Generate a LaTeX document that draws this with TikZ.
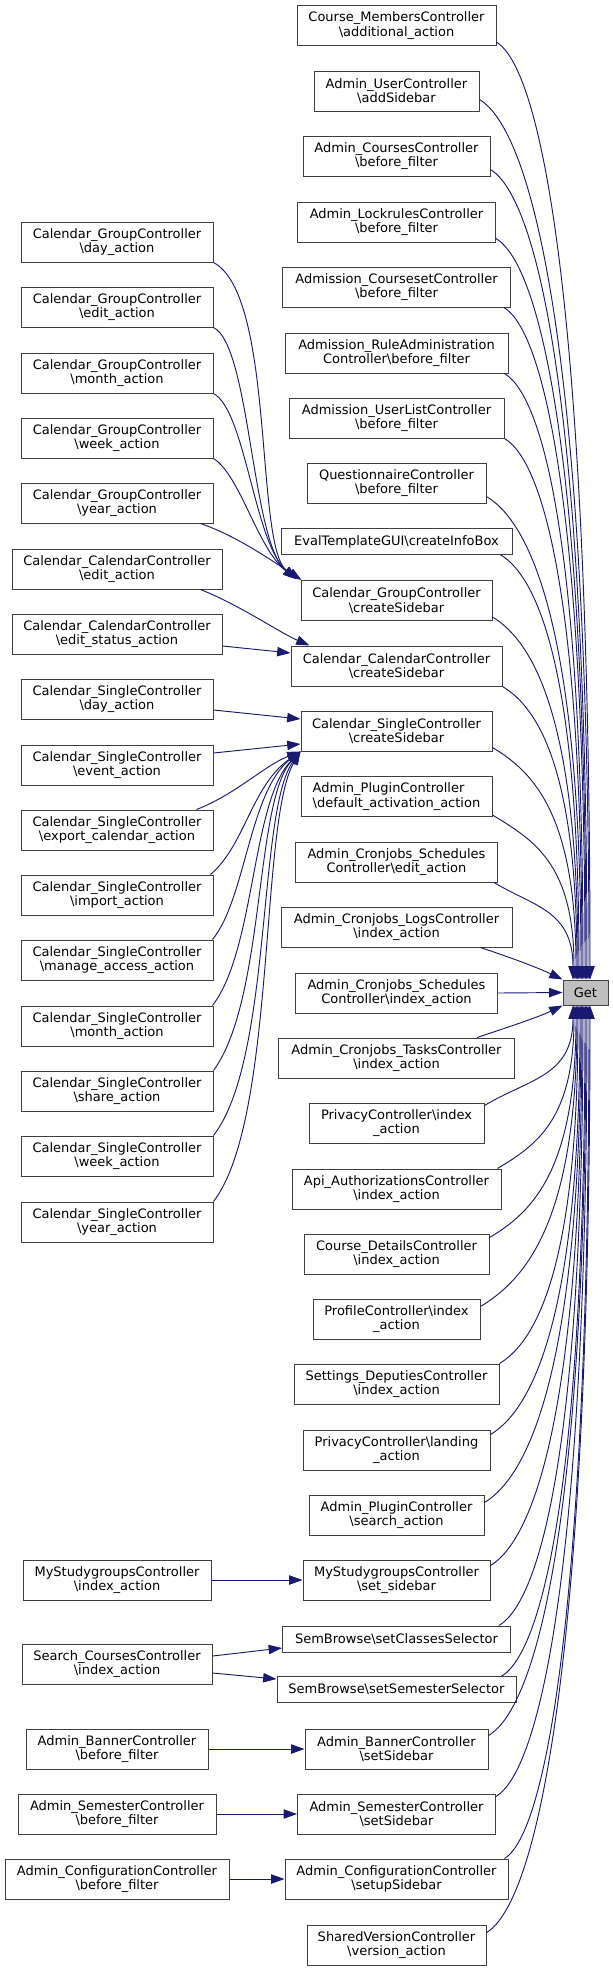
\documentclass[tikz,border=0pt]{standalone}
\usepackage{fontspec}
\setmainfont{DejaVu Sans}
\usetikzlibrary{arrows.meta,calc}
\definecolor{edgeblue}{HTML}{191970}
\definecolor{boxline}{HTML}{404040}
\definecolor{getfill}{HTML}{BFBFBF}
\newcommand\bs{\textbackslash}
\newcommand\midbox[5]{\node[box,minimum width=#3*0.75pt,minimum height=#4*0.75pt] (#1) at (396.5,#2) {#5};}
\newcommand\leftbox[4]{\node[box,minimum width=#3*0.75pt,minimum height=30pt] (#1) at (117,#2) {#4};}
\begin{document}
\begin{tikzpicture}[x=0.75pt,y=-0.75pt,
  box/.style={draw=boxline,line width=0.75pt,fill=white,inner sep=0pt,align=center,font=\fontsize{9.75pt}{10.9pt}\selectfont},
  calledge/.style={draw=edgeblue,line width=0.7pt,-{Triangle[length=10pt,width=7pt]}}]
\useasboundingbox (0,0) rectangle (613,1971);
% focus node
\node[box,fill=getfill,minimum width=33.75pt,minimum height=18.75pt] (get) at (585.5,992.5) {Get};
% middle column
\midbox{m0}{25.7}{199}{40}{Course\_MembersController\\\bs additional\_action}
\midbox{m1}{91}{165}{40}{Admin\_UserController\\\bs addSidebar}
\midbox{m2}{156}{187}{40}{Admin\_CoursesController\\\bs before\_filter}
\midbox{m3}{222}{198}{40}{Admin\_LockrulesController\\\bs before\_filter}
\midbox{m4}{287}{228}{40}{Admission\_CoursesetController\\\bs before\_filter}
\midbox{m5}{353}{223}{40}{Admission\_RuleAdministration\\Controller\bs before\_filter}
\midbox{m6}{418}{215}{40}{Admission\_UserListController\\\bs before\_filter}
\midbox{m7}{483}{179}{40}{QuestionnaireController\\\bs before\_filter}
\midbox{m8}{541.5}{231}{25.5}{EvalTemplateGUI\bs createInfoBox}
\midbox{m9}{600.5}{191}{40}{Calendar\_GroupController\\\bs createSidebar}
\midbox{m10}{666}{211}{40}{Calendar\_CalendarController\\\bs createSidebar}
\midbox{m11}{731}{191}{40}{Calendar\_SingleController\\\bs createSidebar}
\midbox{m12}{796.5}{191}{40}{\rlap{Admin\_PluginController}\phantom{\bs default\_activation\_action}\\\bs default\_activation\_action}
\midbox{m13}{862}{202}{40}{Admin\_Cronjobs\_Schedules\\Controller\bs edit\_action}
\midbox{m14}{927}{231}{40}{Admin\_Cronjobs\_LogsController\\\bs index\_action}
\midbox{m15}{993}{202}{40}{Admin\_Cronjobs\_Schedules\\Controller\bs index\_action}
\midbox{m16}{1058}{236}{40}{Admin\_Cronjobs\_TasksController\\\bs index\_action}
\midbox{m17}{1123}{175}{40}{PrivacyController\bs index\\\_action}
\midbox{m18}{1189}{209}{40}{Api\_AuthorizationsController\\\bs index\_action}
\midbox{m19}{1254}{185}{40}{Course\_DetailsController\\\bs index\_action}
\midbox{m20}{1319}{167}{40}{ProfileController\bs index\\\_action}
\midbox{m21}{1384}{205}{40}{Settings\_DeputiesController\\\bs index\_action}
\midbox{m22}{1450}{187}{40}{PrivacyController\bs landing\\\_action}
\midbox{m23}{1515}{175}{40}{Admin\_PluginController\\\bs search\_action}
\midbox{m24}{1580}{187}{40}{MyStudygroupsController\\\bs set\_sidebar}
\midbox{m25}{1639}{228}{26}{SemBrowse\bs setClassesSelector}
\midbox{m26}{1689.5}{239}{25.5}{SemBrowse\bs setSemesterSelector}
\midbox{m27}{1749}{183}{40}{Admin\_BannerController\\\bs setSidebar}
\midbox{m28}{1814}{198}{40}{Admin\_SemesterController\\\bs setSidebar}
\midbox{m29}{1879}{223}{40}{Admin\_ConfigurationController\\\bs setupSidebar}
\midbox{m30}{1945}{179}{40}{SharedVersionController\\\bs version\_action}
% left column
\leftbox{g1}{242}{192}{Calendar\_GroupController\\\bs day\_action}
\leftbox{g2}{307}{192}{Calendar\_GroupController\\\bs edit\_action}
\leftbox{g3}{373}{192}{Calendar\_GroupController\\\bs month\_action}
\leftbox{g4}{438}{192}{Calendar\_GroupController\\\bs week\_action}
\leftbox{g5}{503}{192}{Calendar\_GroupController\\\bs year\_action}
\leftbox{c1}{569}{210}{Calendar\_CalendarController\\\bs edit\_action}
\leftbox{c2}{634}{210}{Calendar\_CalendarController\\\bs edit\_status\_action}
\leftbox{s1}{699}{192}{Calendar\_SingleController\\\bs day\_action}
\leftbox{s2}{765}{192}{Calendar\_SingleController\\\bs event\_action}
\leftbox{s3}{830}{192}{Calendar\_SingleController\\\bs export\_calendar\_action}
\leftbox{s4}{895}{192}{Calendar\_SingleController\\\bs import\_action}
\leftbox{s5}{960}{192}{Calendar\_SingleController\\\bs manage\_access\_action}
\leftbox{s6}{1026}{192}{Calendar\_SingleController\\\bs month\_action}
\leftbox{s7}{1091}{192}{Calendar\_SingleController\\\bs share\_action}
\leftbox{s8}{1156}{192}{Calendar\_SingleController\\\bs week\_action}
\leftbox{s9}{1222}{192}{Calendar\_SingleController\\\bs year\_action}
\leftbox{a1}{1580}{188}{MyStudygroupsController\\\bs index\_action}
\leftbox{a2}{1664}{190}{Search\_CoursesController\\\bs index\_action}
\leftbox{a3}{1749}{182}{Admin\_BannerController\\\bs before\_filter}
\leftbox{a4}{1814}{198}{Admin\_SemesterController\\\bs before\_filter}
\leftbox{a5}{1879}{224}{Admin\_ConfigurationController\\\bs before\_filter}
% edges into Get from above
\draw[calledge] ($(m0.south east)+(0,-4)$) .. controls +(47,28) and +(0,-657) .. ($(get.north)+(4.5,0)$);
\draw[calledge] ($(m1.south east)+(0,-12)$) .. controls +(55,33) and +(0,-617) .. ($(get.north)+(3.5,0)$);
\draw[calledge] ($(m2.south east)+(0,-7)$) .. controls +(48,29) and +(0,-568) .. ($(get.north)+(1.5,0)$);
\draw[calledge] ($(m3.south east)+(0,-4)$) .. controls +(45,27) and +(0,-519) .. ($(get.north)+(0.5,0)$);
\draw[calledge] ($(m4.south east)+(-7,0)$) .. controls +(40,24) and +(0,-471) .. ($(get.north)+(-0.5,0)$);
\draw[calledge] ($(m5.south east)+(-4,0)$) .. controls +(40,24) and +(0,-425) .. ($(get.north)+(-2.5,0)$);
\draw[calledge] (m6.south east) .. controls +(39,23) and +(0,-379) .. ($(get.north)+(-3.5,0)$);
\draw[calledge] ($(m7.south east)+(0,-7)$) .. controls +(47,28) and +(0,-339) .. ($(get.north)+(-4.5,0)$);
\draw[calledge] ($(m8.south east)+(-12,0)$) .. controls +(40,24) and +(0,-298) .. ($(get.north)+(-6.5,0)$);
\draw[calledge] ($(m9.south east)+(0,-4)$) .. controls +(43,26) and +(0,-255) .. ($(get.north)+(-7.5,0)$);
\draw[calledge] (m10.south east) .. controls +(37,22) and +(0,-206) .. ($(get.north)+(-8.5,0)$);
\draw[calledge] ($(m11.south east)+(0,-4)$) .. controls +(42,25) and +(0,-163) .. ($(get.north)+(-9.5,0)$);
\draw[calledge] ($(m12.south east)+(0,-2)$) .. controls +(41,25) and +(0,-116) .. ($(get.north)+(-11.5,0)$);
\draw[calledge] ($(m13.south east)+(-4,0)$) .. controls +(40,24) and +(0,-69) .. ($(get.north)+(-12.5,0)$);
\draw[calledge] ($(m14.south east)+(-32,0)$) .. controls +(30,10) and +(-25,-12) .. (get.north west);
\draw[calledge] (m15.east) -- (get.west);
\draw[calledge] ($(m16.north east)+(-38,0)$) .. controls +(30,-10) and +(-25,12) .. (get.south west);
% edges into Get from below
\draw[calledge] ($(m17.north east)+(0,3)$) .. controls +(45,-27) and +(0,71) .. ($(get.south)+(-12.5,0)$);
\draw[calledge] ($(m18.north east)+(-4,0)$) .. controls +(38,-23) and +(0,115) .. ($(get.south)+(-11.5,0)$);
\draw[calledge] ($(m19.north east)+(0,4)$) .. controls +(44,-26) and +(0,163) .. ($(get.south)+(-9.5,0)$);
\draw[calledge] ($(m20.north east)+(0,8)$) .. controls +(48,-29) and +(0,211) .. ($(get.south)+(-8.5,0)$);
\draw[calledge] (m21.north east) .. controls +(40,-24) and +(0,251) .. ($(get.south)+(-7.5,0)$);
\draw[calledge] ($(m22.north east)+(0,5)$) .. controls +(45,-27) and +(0,301) .. ($(get.south)+(-5.5,0)$);
\draw[calledge] ($(m23.north east)+(0,8)$) .. controls +(48,-29) and +(0,349) .. ($(get.south)+(-4.5,0)$);
\draw[calledge] ($(m24.north east)+(0,6)$) .. controls +(46,-28) and +(0,393) .. ($(get.south)+(-3.5,0)$);
\draw[calledge] ($(m25.north east)+(-12,0)$) .. controls +(42,-25) and +(0,435) .. ($(get.south)+(-2.5,0)$);
\draw[calledge] ($(m26.north east)+(-15,0)$) .. controls +(42,-25) and +(0,470) .. ($(get.south)+(-0.5,0)$);
\draw[calledge] ($(m27.north east)+(0,7)$) .. controls +(49,-29) and +(0,512) .. ($(get.south)+(0.5,0)$);
\draw[calledge] ($(m28.north east)+(0,3)$) .. controls +(45,-27) and +(0,554) .. ($(get.south)+(1.5,0)$);
\draw[calledge] ($(m29.north east)+(-4,0)$) .. controls +(42,-25) and +(0,598) .. ($(get.south)+(3.5,0)$);
\draw[calledge] ($(m30.north east)+(0,8)$) .. controls +(52,-31) and +(0,650) .. ($(get.south)+(4.5,0)$);
% Calendar_GroupController callers
\draw[calledge] (g1.south east) .. controls +(62,33) and +(-42,-35) .. ($(m9.north west)+(-4,-1)$);
\draw[calledge] (g2.south east) .. controls +(37,18) and +(-45,-35) .. ($(m9.north west)+(-4,-1)$);
\draw[calledge] (g3.south east) .. controls +(32,17) and +(-42,-35) .. ($(m9.north west)+(-4,-1)$);
\draw[calledge] (g4.south east) .. controls +(27,17) and +(-39,-30) .. ($(m9.north west)+(-4,-1)$);
\draw[calledge] ($(g5.south east)+(-13,0)$) .. controls +(35,12) and +(-32,-21) .. ($(m9.north west)+(1,0)$);
% Calendar_CalendarController callers
\draw[calledge] ($(c1.south east)+(-22,0)$) .. controls +(40,16) and +(-30,-13) .. ($(m10.north west)+(19,0)$);
\draw[calledge] ($(c2.east)+(0,12)$) -- ($(m10.west)+(0,-13)$);
% Calendar_SingleController callers
\draw[calledge] ($(s1.east)+(0,11)$) -- ($(m11.west)+(0,-12)$);
\draw[calledge] ($(s2.east)+(0,-12)$) -- ($(m11.west)+(0,13)$);
\draw[calledge] ($(s3.north east)+(-17,0)$) .. controls +(39,-15) and +(-36,14) .. (m11.south west);
\draw[calledge] ($(s4.north east)+(-3,0)$) .. controls +(35,-30) and +(-49,34) .. (m11.south west);
\draw[calledge] ($(s5.north east)+(-1,0)$) .. controls +(33,-40) and +(-51,39) .. (m11.south west);
\draw[calledge] ($(s6.north east)+(-1,0)$) .. controls +(43,-56) and +(-49,49) .. (m11.south west);
\draw[calledge] (s7.north east) .. controls +(52,-71) and +(-46,49) .. (m11.south west);
\draw[calledge] (s8.north east) .. controls +(59,-76) and +(-43,59) .. (m11.south west);
\draw[calledge] (s9.north east) .. controls +(63,-82) and +(-41,69) .. (m11.south west);
% other callers
\draw[calledge] (a1.east) -- (m24.west);
\draw[calledge] ($(a2.east)+(0,-8)$) -- ($(m25.west)+(0,9)$);
\draw[calledge] ($(a2.east)+(0,9)$) -- ($(m26.west)+(0,-10.5)$);
\draw[calledge] (a3.east) -- (m27.west);
\draw[calledge] (a4.east) -- (m28.west);
\draw[calledge] (a5.east) -- (m29.west);
\end{tikzpicture}
\end{document}
